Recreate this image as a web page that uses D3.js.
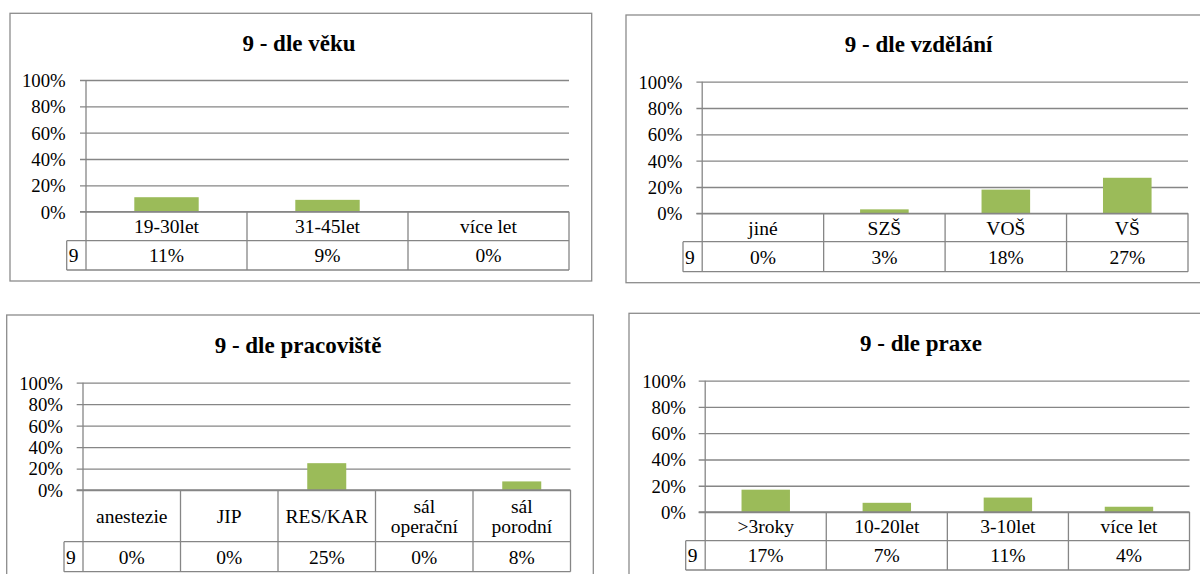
<!DOCTYPE html>
<html>
<head>
<meta charset="utf-8">
<script src="https://cdn.jsdelivr.net/npm/d3@7"></script>
<style>
  html, body { margin: 0; padding: 0; background: #fff; }
  svg { display: block; }
</style>
</head>
<body>
<svg id="chart" width="1200" height="574"></svg>
<script>
// ---- data ----
const seriesName = "9";
const yTicks = [0, 20, 40, 60, 80, 100];

const vekTitle = "9 - dle věku";
const vekCategories = ["19-30let", "31-45let", "více let"];
const vekValues = [11, 9, 0];

const vzdelaniTitle = "9 - dle vzdělání";
const vzdelaniCategories = ["jiné", "SZŠ", "VOŠ", "VŠ"];
const vzdelaniValues = [0, 3, 18, 27];

const pracovisteTitle = "9 - dle pracoviště";
const pracovisteCategories = ["anestezie", "JIP", "RES/KAR", "sál operační", "sál porodní"];
const pracovisteValues = [0, 0, 25, 0, 8];

const praxeTitle = "9 - dle praxe";
const praxeCategories = [">3roky", "10-20let", "3-10let", "více let"];
const praxeValues = [17, 7, 11, 4];

// ---- layout of the four chart boxes ----
const layouts = [
  { frame: [10, 13.3, 581.7, 267.7], title: [299, 51], left: 86, right: 569, top: 80, bottom: 211.7,
    rows: [240.7, 270], legendX: 66.7, tickStart: 80, labelRight: 65.7 },
  { frame: [626, 15, 590, 267.7], title: [918.6, 51.7], left: 702.2, right: 1188, top: 81.7, bottom: 213.3,
    rows: [241.7, 271.7], legendX: 683, tickStart: 696.4, labelRight: 682.3 },
  { frame: [6.7, 315, 586.6, 280], title: [298, 353], left: 83, right: 570.5, top: 382.7, bottom: 490,
    rows: [541.7, 571.7], legendX: 64, tickStart: 76.7, labelRight: 63 },
  { frame: [629, 313.3, 590, 280], title: [921, 350.7], left: 705.2, right: 1189.5, top: 380.7, bottom: 512,
    rows: [540.7, 570], legendX: 685.7, tickStart: 698.7, labelRight: 686 }
];

const charts = [
  { title: vekTitle, categories: vekCategories, values: vekValues },
  { title: vzdelaniTitle, categories: vzdelaniCategories, values: vzdelaniValues },
  { title: pracovisteTitle, categories: pracovisteCategories, values: pracovisteValues },
  { title: praxeTitle, categories: praxeCategories, values: praxeValues }
];

const FONT = "Liberation Serif";
const TITLE_SIZE = 23;
const TICK_SIZE = 18.8;
const TABLE_SIZE = 19.5;
const barColor = "#9BBB59";
const lineColor = "#868686";
const frameColor = "#8c8c8c";

const svg = d3.select("#chart");

charts.forEach((c, i) => {
  const L = layouts[i];
  const g = svg.append("g").attr("font-family", FONT);

  // outer frame
  g.append("rect")
    .attr("x", L.frame[0]).attr("y", L.frame[1])
    .attr("width", L.frame[2]).attr("height", L.frame[3])
    .attr("fill", "#fff").attr("stroke", frameColor).attr("stroke-width", 1.3);

  // title
  g.append("text")
    .attr("x", L.title[0]).attr("y", L.title[1])
    .attr("text-anchor", "middle")
    .attr("font-family", FONT)
    .attr("font-size", TITLE_SIZE).attr("font-weight", "bold")
    .attr("fill", "#000")
    .text(c.title);

  const y = d3.scaleLinear().domain([0, 100]).range([L.bottom, L.top]);
  const xCol = d3.scaleBand().domain(c.categories).range([L.left, L.right]).padding(0);
  const xBar = d3.scaleBand().domain(c.categories).range([L.left, L.right])
    .paddingInner(0.6).paddingOuter(0.3);

  // value axis with gridlines
  const axis = d3.axisLeft(y)
    .tickValues(yTicks)
    .tickSize(-(L.right - L.tickStart))
    .tickPadding(L.tickStart - L.labelRight)
    .tickFormat(d => d + "%");
  const ag = g.append("g").attr("transform", `translate(${L.tickStart},0)`).call(axis);
  ag.attr("font-family", FONT).attr("font-size", TICK_SIZE);
  ag.select(".domain").remove();
  ag.selectAll(".tick line").attr("stroke", lineColor).attr("stroke-width", 1.3);
  ag.selectAll(".tick text")
    .attr("font-family", FONT)
    .attr("font-size", TICK_SIZE)
    .attr("fill", "#000")
    .attr("dy", "0.34em");

  // bars
  g.selectAll("rect.bar").data(c.values).join("rect")
    .attr("class", "bar")
    .attr("x", (d, k) => xBar(c.categories[k]))
    .attr("width", xBar.bandwidth())
    .attr("y", d => y(d))
    .attr("height", d => y(0) - y(d))
    .attr("fill", barColor);

  // data table under the plot
  const tg = g.append("g").attr("stroke", lineColor).attr("stroke-width", 1.3);
  const rowTop = L.bottom, rowMid = L.rows[0], rowBot = L.rows[1];
  tg.append("line").attr("x1", L.tickStart).attr("x2", L.right).attr("y1", rowTop).attr("y2", rowTop);
  tg.append("line").attr("x1", L.legendX).attr("x2", L.right).attr("y1", rowMid).attr("y2", rowMid);
  tg.append("line").attr("x1", L.legendX).attr("x2", L.right).attr("y1", rowBot).attr("y2", rowBot);
  // vertical axis line continues through the table
  tg.append("line").attr("x1", L.left).attr("x2", L.left).attr("y1", L.top).attr("y2", rowBot);
  tg.append("line").attr("x1", L.legendX).attr("x2", L.legendX).attr("y1", rowMid).attr("y2", rowBot);
  c.categories.forEach(cat => {
    const xr = xCol(cat) + xCol.bandwidth();
    tg.append("line").attr("x1", xr).attr("x2", xr).attr("y1", rowTop).attr("y2", rowBot);
  });

  // category labels (wrapped onto words when too wide for the cell)
  const catMid = (rowTop + rowMid) / 2;
  c.categories.forEach(cat => {
    const cx = xCol(cat) + xCol.bandwidth() / 2;
    const t = g.append("text")
      .attr("x", cx).attr("text-anchor", "middle")
      .attr("font-family", FONT)
      .attr("font-size", TABLE_SIZE)
      .attr("fill", "#000");
    t.text(cat);
    const words = cat.split(" ");
    if (t.node().getComputedTextLength() > xCol.bandwidth() - 12 && words.length > 1) {
      t.text(null);
      const lh = 20;
      const first = catMid + 7 - (words.length - 1) * lh / 2;
      words.forEach((w, k) => {
        t.append("tspan").attr("x", cx).attr("y", first + k * lh).text(w);
      });
    } else {
      t.attr("y", catMid + 7);
    }
  });

  // series key and values
  const valMid = (rowMid + rowBot) / 2;
  g.append("text")
    .attr("x", L.legendX + 2).attr("y", valMid + 7)
    .attr("font-family", FONT)
    .attr("font-size", TABLE_SIZE)
    .attr("fill", "#000")
    .text(seriesName);
  g.selectAll("text.val").data(c.values).join("text")
    .attr("class", "val")
    .attr("x", (d, k) => xCol(c.categories[k]) + xCol.bandwidth() / 2)
    .attr("y", valMid + 7)
    .attr("text-anchor", "middle")
    .attr("font-family", FONT)
    .attr("font-size", TABLE_SIZE)
    .attr("fill", "#000")
    .text(d => d + "%");
});
</script>
</body>
</html>
